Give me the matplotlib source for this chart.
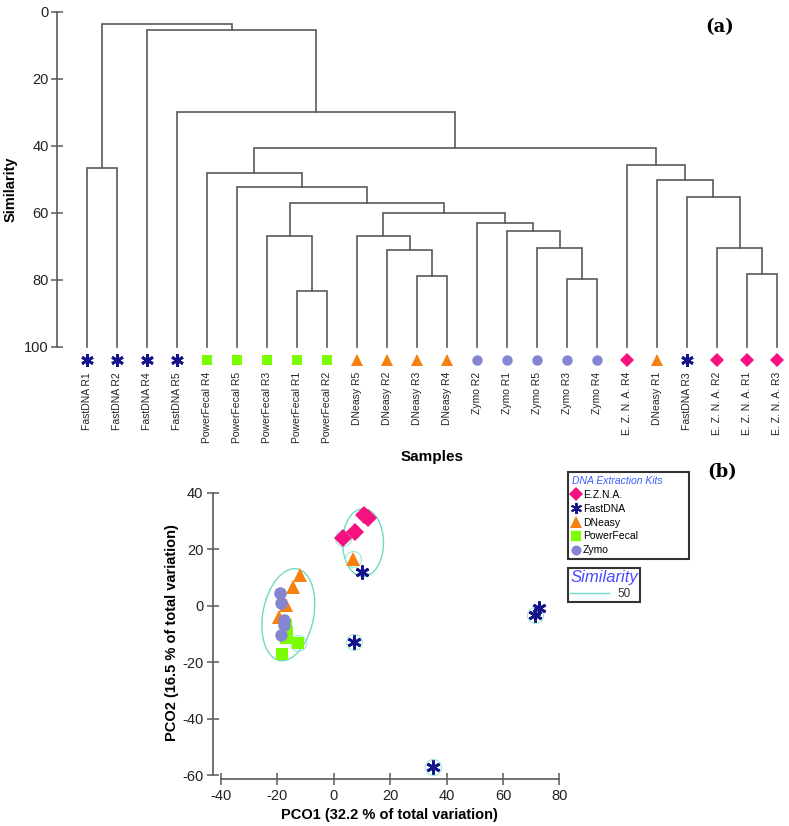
import matplotlib
matplotlib.use("Agg")
import matplotlib.pyplot as plt
from matplotlib.patches import Ellipse
from matplotlib.lines import Line2D

plt.rcParams['font.family'] = ['Liberation Sans', 'DejaVu Sans']
plt.rcParams['axes.unicode_minus'] = False

# ---------------- data: dendrogram ----------------
leaf_labels = ["FastDNA R1", "FastDNA R2", "FastDNA R4", "FastDNA R5",
               "PowerFecal R4", "PowerFecal R5", "PowerFecal R3", "PowerFecal R1", "PowerFecal R2",
               "DNeasy R5", "DNeasy R2", "DNeasy R3", "DNeasy R4",
               "Zymo R2", "Zymo R1", "Zymo R5", "Zymo R3", "Zymo R4",
               "E. Z. N. A. R4", "DNeasy R1", "FastDNA R3",
               "E. Z. N. A. R2", "E. Z. N. A. R1", "E. Z. N. A. R3"]
leaf_kits = ["FastDNA"] * 4 + ["PowerFecal"] * 5 + ["DNeasy"] * 4 + ["Zymo"] * 5 + \
            ["E.Z.N.A.", "DNeasy", "FastDNA", "E.Z.N.A.", "E.Z.N.A.", "E.Z.N.A."]
# merges: (left node, right node, similarity); leaves 0..23, new nodes numbered from 24
merges = [(7, 8, 83.3), (6, 24, 67.0), (11, 12, 78.8), (10, 26, 71.0), (9, 27, 67.0),
          (16, 17, 79.7), (15, 29, 70.5), (14, 30, 65.3), (13, 31, 62.9), (28, 32, 60.1),
          (25, 33, 56.9), (5, 34, 52.4), (4, 35, 48.0),
          (22, 23, 78.3), (21, 37, 70.5), (20, 38, 55.1), (19, 39, 50.1), (18, 40, 45.7),
          (36, 41, 40.7), (3, 42, 30.0), (2, 43, 5.4), (0, 1, 46.5), (45, 44, 3.7)]
sim_ticks = [0, 20, 40, 60, 80, 100]

# ---------------- data: PCO ----------------
kits = ["E.Z.N.A.", "FastDNA", "DNeasy", "PowerFecal", "Zymo"]
ezna_x = [10.8, 12.0, 7.4, 3.2]
ezna_y = [32.0, 31.0, 26.1, 24.0]
fast_x = [10.2, 7.1, 35.3, 71.4, 72.8]
fast_y = [12.0, -12.8, -57.2, -3.2, -0.7]
dneasy_x = [6.7, -12.0, -14.5, -17.0, -19.4]
dneasy_y = [16.6, 11.0, 6.7, 0.3, -4.0]
power_x = [-16.8, -16.5, -17.0, -12.7, -18.4]
power_y = [-7.0, -9.5, -11.5, -13.4, -17.3]
zymo_x = [-19.1, -18.7, -17.5, -17.7, -18.6]
zymo_y = [4.6, 1.0, -5.0, -6.7, -10.5]
# singleton points ringed by the 50% similarity contour: (kit, index)
ringed = [("E.Z.N.A.", 3), ("DNeasy", 0), ("PowerFecal", 3),
          ("FastDNA", 1), ("FastDNA", 2), ("FastDNA", 3)]
# similarity-50 ellipses: (center x, center y, width, height, angle)
clusters = [(10.4, 22.3, 14.5, 24.0, 0.0), (-16.1, -3.2, 18.0, 33.0, -11.0)]
pco_xticks = [-40, -20, 0, 20, 40, 60, 80]
pco_yticks = [-60, -40, -20, 0, 20, 40]

# ---------------- styles ----------------
style = {
    "E.Z.N.A.": dict(marker="D", color="#f5117f", ms=9.5, mew=0),
    "FastDNA": dict(marker=(6, 2, 0), color="#14148a", ms=10, mew=2.0),
    "DNeasy": dict(marker="^", color="#f7800f", ms=10.5, mew=0),
    "PowerFecal": dict(marker="s", color="#7cfc00", ms=8.5, mew=0),
    "Zymo": dict(marker="o", color="#8585d2", ms=9, mew=0),
}
leaf_ms = {"E.Z.N.A.": 7.5, "FastDNA": 9, "DNeasy": 8.5, "PowerFecal": 7.5, "Zymo": 7.5}
pco_data = {"E.Z.N.A.": (ezna_x, ezna_y), "FastDNA": (fast_x, fast_y),
            "DNeasy": (dneasy_x, dneasy_y), "PowerFecal": (power_x, power_y),
            "Zymo": (zymo_x, zymo_y)}

W, H = 789, 826
fig = plt.figure(figsize=(W / 100, H / 100), dpi=100)

# ================= (a) dendrogram =================
ax1 = fig.add_axes([57 / W, 1 - 367 / H, (786 - 57) / W, (367 - 12) / H])
ax1.set_xlim(-1, 23.3)
ax1.set_ylim(106, 0)
lc = "#5a5a5a"
n = len(leaf_labels)
pos = {i: (float(i), 100.0) for i in range(n)}
for k, (l, r, h) in enumerate(merges):
    xl, hl = pos[l]
    xr, hr = pos[r]
    ax1.plot([xl, xl, xr, xr], [hl, h, h, hr], color=lc, lw=1.2, solid_joinstyle="miter")
    pos[n + k] = ((xl + xr) / 2, h)
for i, (lab, kit) in enumerate(zip(leaf_labels, leaf_kits)):
    st = style[kit]
    ax1.plot([i], [104.0], linestyle="none", marker=st["marker"], ms=leaf_ms[kit],
             color=st["color"], mec=st["color"], mew=st["mew"], clip_on=False)
    ax1.text(i, 107.5, lab, rotation=90, ha="center", va="top", fontsize=7.5,
             color="#222222", clip_on=False)
for s in ["top", "right", "bottom"]:
    ax1.spines[s].set_visible(False)
ax1.spines["left"].set_bounds(0, 100)
ax1.spines["left"].set_color(lc)
ax1.spines["left"].set_linewidth(1.2)
ax1.set_xticks([])
ax1.set_yticks(sim_ticks)
ax1.tick_params(axis="y", direction="inout", length=8, width=1.1, color=lc,
                labelsize=10.5, labelcolor="#222222", pad=2)
ax1.set_ylabel("Similarity", fontsize=10.5, fontweight="bold")
ax1.yaxis.set_label_coords(-0.054, 0.5)
ax1.text(11.5, 133, "Samples", ha="center", va="center", fontsize=11,
         fontweight="bold", clip_on=False)

fig.text(720 / W, 1 - 27 / H, "(a)", ha="center", va="center", fontsize=13,
         fontweight="bold", family="DejaVu Serif")
fig.text(722 / W, 1 - 472 / H, "(b)", ha="center", va="center", fontsize=13,
         fontweight="bold", family="DejaVu Serif")

# ================= (b) PCO =================
ax2 = fig.add_axes([213 / W, 1 - 779 / H, (565 - 213) / W, (779 - 487) / H])
ax2.set_xlim(-42.8, 82)
ax2.set_ylim(-61.4, 42)
ell_c = "#6fd9c6"
for cx, cy, w, h, ang in clusters:
    ax2.add_patch(Ellipse((cx, cy), w, h, angle=ang, fill=False, ec=ell_c, lw=1.0))
for kit, idx in ringed:
    xs, ys = pco_data[kit]
    ax2.plot([xs[idx]], [ys[idx]], linestyle="none", marker="o", ms=11.5,
             mfc="none", mec="#9fe6da", mew=0.8)
for kit in ["PowerFecal", "DNeasy", "Zymo", "E.Z.N.A.", "FastDNA"]:
    xs, ys = pco_data[kit]
    st = style[kit]
    ax2.plot(xs, ys, linestyle="none", marker=st["marker"], ms=st["ms"],
             color=st["color"], mec=st["color"], mew=st["mew"])
for s in ["top", "right"]:
    ax2.spines[s].set_visible(False)
ax2.spines["left"].set_bounds(-60, 40)
ax2.spines["bottom"].set_bounds(-40, 80)
for s in ["left", "bottom"]:
    ax2.spines[s].set_color(lc)
    ax2.spines[s].set_linewidth(1.2)
ax2.set_xticks(pco_xticks)
ax2.set_yticks(pco_yticks)
ax2.tick_params(direction="inout", length=8, width=1.1, color=lc,
                labelsize=10.5, labelcolor="#222222", pad=3)
ax2.set_xlabel("PCO1 (32.2 % of total variation)", fontsize=10.5, fontweight="bold", labelpad=4)
ax2.set_ylabel("PCO2 (16.5 % of total variation)", fontsize=10.5, fontweight="bold", labelpad=2)

# legends
handles = []
for kit in kits:
    st = style[kit]
    handles.append(Line2D([], [], linestyle="none", marker=st["marker"],
                          ms=st["ms"] * 0.8, color=st["color"], mec=st["color"], mew=st["mew"] * 0.7))
leg1 = ax2.legend(handles, kits, loc="upper left",
                  bbox_to_anchor=(568 / W, 1 - 561 / H, 121 / W, 89 / H),
                  mode="expand",
                  bbox_transform=fig.transFigure, borderaxespad=0, fontsize=7.5,
                  title="DNA Extraction Kits", alignment="left", frameon=True,
                  fancybox=False, edgecolor="black", handlelength=0.8, handletextpad=0.3,
                  labelspacing=0.38, borderpad=0.35, markerfirst=True)
leg1.get_title().set_fontstyle("italic")
leg1.get_title().set_color("#3c5cff")
leg1.get_title().set_fontsize(7.5)
leg1.get_frame().set_linewidth(1.5)
ax2.add_artist(leg1)

sim_handle = [Line2D([], [], color=ell_c, lw=1.0)]
leg2 = ax2.legend(sim_handle, ["50"], loc="upper left", bbox_to_anchor=(568 / W, 1 - 568 / H),
                  bbox_transform=fig.transFigure, borderaxespad=0, fontsize=8.5,
                  title="Similarity", alignment="left", fancybox=False, edgecolor="black",
                  handlelength=3.3, handletextpad=0.7, borderpad=0.2, labelspacing=0.2)
leg2.get_title().set_fontstyle("italic")
leg2.get_title().set_color("#4a4aff")
leg2.get_title().set_fontsize(12)
leg2.get_frame().set_linewidth(1.5)
for t in leg2.get_texts():
    t.set_color("#333333")

fig.savefig("out.png", dpi=100)
